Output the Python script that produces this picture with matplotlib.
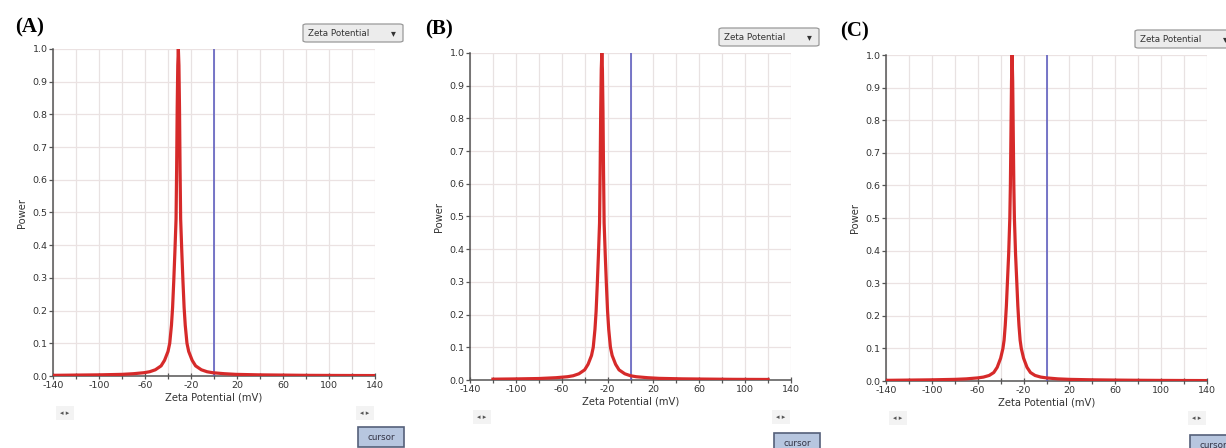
import matplotlib
matplotlib.use("Agg")
import matplotlib.pyplot as plt
from matplotlib.patches import FancyBboxPatch, Rectangle
from matplotlib.ticker import MultipleLocator, FixedLocator

W, H = 1226, 448

# zeta potential distributions (mV, normalised power)
x_A = [-140, -120, -100, -80, -70, -61, -56, -51, -46, -43, -40, -38.5, -37, -36, -35,
       -34, -33, -32.5, -32, -31.5, -31, -30.5, -30, -29.5, -29, -28, -27, -26, -25,
       -23.5, -22, -19, -16, -11, -6, -1, 9, 19, 39, 59, 80, 110, 140]
y_A = [0.002, 0.0028, 0.0035, 0.005, 0.007, 0.010, 0.013, 0.019, 0.031, 0.048, 0.075,
       0.1, 0.155, 0.21, 0.29, 0.38, 0.48, 0.63, 0.82, 0.95, 1.0, 0.95, 0.82, 0.63, 0.48,
       0.38, 0.29, 0.21, 0.155, 0.1, 0.075, 0.048, 0.031, 0.019, 0.013, 0.010, 0.007,
       0.005, 0.0035, 0.0028, 0.002, 0.0016, 0.0013]

x_B = [-120, -100, -80, -65, -55, -50, -45, -40, -37, -34, -32.5, -31, -30, -29, -28,
       -27, -26.5, -26, -25.5, -25, -24.5, -24, -23.5, -23, -22, -21, -20, -19, -17.5,
       -16, -13, -10, -5, 0, 5, 15, 25, 45, 65, 90, 120]
y_B = [0.0025, 0.0033, 0.0045, 0.007, 0.010, 0.013, 0.019, 0.031, 0.048, 0.075, 0.1,
       0.155, 0.21, 0.29, 0.38, 0.48, 0.63, 0.82, 0.95, 1.0, 0.95, 0.82, 0.63, 0.48,
       0.38, 0.29, 0.21, 0.155, 0.1, 0.075, 0.048, 0.031, 0.019, 0.013, 0.010, 0.007,
       0.005, 0.0035, 0.0028, 0.002, 0.0016]

x_C = [-140, -120, -100, -80, -70, -60, -55, -50, -46, -43, -40, -38, -37, -36, -35,
       -34, -33, -32, -31.5, -31, -30.5, -30, -29.5, -29, -28.5, -28, -27, -26, -25,
       -24, -23, -22, -20, -17, -14, -10, -5, 0, 10, 20, 40, 60, 80, 100, 120, 140]
y_C = [0.002, 0.0028, 0.0036, 0.005, 0.0065, 0.0095, 0.012, 0.017, 0.026, 0.042, 0.07,
       0.1, 0.125, 0.17, 0.23, 0.31, 0.39, 0.5, 0.6, 0.76, 0.92, 1.0, 0.92, 0.76, 0.6,
       0.5, 0.39, 0.31, 0.23, 0.17, 0.125, 0.1, 0.07, 0.042, 0.026, 0.017, 0.012,
       0.0095, 0.0065, 0.005, 0.0036, 0.0028, 0.0022, 0.0018, 0.0015, 0.0013]

cursor_mv = 0
panel_labels = ["(A)", "(B)", "(C)"]
xtick_labels = [-140, -100, -60, -20, 20, 60, 100, 140]

# axes boxes in pixels: left, top, right, bottom
boxes = [(53, 49, 375, 376), (470, 53, 791, 380), (886, 55, 1207, 381)]
label_pos = [(15, 27), (425, 29), (840, 31)]
cursor_tops = [427, 433, 435]

fig = plt.figure(figsize=(W / 100, H / 100), dpi=100)
fig.patch.set_facecolor("white")


def px(x, y):
    return x / W, 1 - y / H


def panel(box, xs, ys, label, lpos, ctop):
    l, t, r, b = box
    ax = fig.add_axes([l / W, 1 - b / H, (r - l) / W, (b - t) / H])
    ax.set_xlim(-140, 140)
    ax.set_ylim(0, 1.0)
    ax.xaxis.set_major_locator(FixedLocator(xtick_labels))
    ax.xaxis.set_minor_locator(MultipleLocator(20))
    ax.yaxis.set_major_locator(MultipleLocator(0.1))
    ax.set_xticklabels([str(v) for v in xtick_labels])
    ax.yaxis.set_major_formatter(matplotlib.ticker.FormatStrFormatter("%.1f"))
    ax.grid(True, which="both", axis="x", color="#e8e2e2", lw=0.9)
    ax.grid(True, which="major", axis="y", color="#ebe2e2", lw=0.9)
    ax.set_axisbelow(True)
    for s in ("top", "right"):
        ax.spines[s].set_visible(False)
    for s in ("left", "bottom"):
        ax.spines[s].set_color("#555555")
        ax.spines[s].set_linewidth(1.1)
    ax.tick_params(axis="x", which="both", direction="inout", length=5, width=0.9,
                   color="#555555", labelsize=6.8, labelcolor="#333333", pad=1)
    ax.tick_params(axis="y", direction="out", length=3, width=0.9, color="#555555",
                   labelsize=6.8, labelcolor="#333333", pad=1)
    ax.axvline(cursor_mv, color="#6060c0", lw=1.2, zorder=3)
    ax.plot(xs, ys, color="#d62a2a", lw=2.3, zorder=4, solid_joinstyle="round")
    ax.set_xlabel("Zeta Potential (mV)", fontsize=7.2, color="#333333", labelpad=2)
    ax.set_ylabel("Power", fontsize=7.2, color="#333333", labelpad=4)

    # panel letter
    fig.text(*px(*lpos), label, fontsize=15, fontweight="bold",
             family="Liberation Serif", ha="left", va="center")
    # "Zeta Potential" drop-down box
    dx, dy = r - 72, t - 25
    fig.patches.append(FancyBboxPatch(px(dx, dy + 18), 100 / W, 18 / H,
                                      boxstyle="round,pad=0,rounding_size=0.003",
                                      transform=fig.transFigure, fc="#ececec",
                                      ec="#9a9a9a", lw=0.9))
    fig.text(*px(dx + 5, dy + 9), "Zeta Potential", fontsize=6.3, color="#333333",
             ha="left", va="center")
    fig.text(*px(dx + 90, dy + 9), "\u25be", fontsize=7, color="#333333",
             ha="center", va="center")
    # scroll arrows under the axis
    for sx in (l + 12, r - 10):
        fig.patches.append(Rectangle(px(sx - 9, b + 44), 18 / W, 14 / H,
                                     transform=fig.transFigure, fc="#f3f3f3",
                                     ec="none"))
        fig.text(*px(sx, b + 37), "\u25c2 \u25b8", fontsize=5, color="#555555",
                 ha="center", va="center")
    # cursor button
    cx = r - 17
    fig.patches.append(Rectangle(px(cx, ctop + 20), 46 / W, 20 / H,
                                 transform=fig.transFigure, fc="#b7c6df",
                                 ec="#55607a", lw=1.2))
    fig.text(*px(cx + 23, ctop + 10), "cursor", fontsize=6.3, color="#333344",
             ha="center", va="center")
    return ax


for box, xs, ys, lab, lp, ct in zip(boxes, [x_A, x_B, x_C], [y_A, y_B, y_C],
                                    panel_labels, label_pos, cursor_tops):
    panel(box, xs, ys, lab, lp, ct)

fig.savefig("out.png", dpi=100)
